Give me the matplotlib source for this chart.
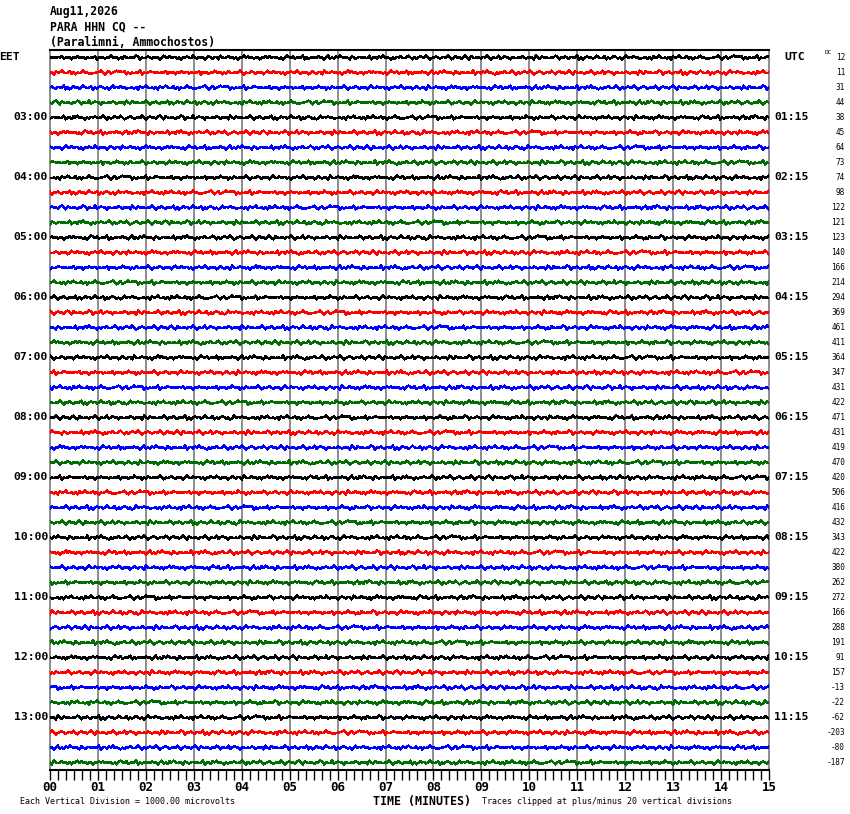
import numpy as np
import matplotlib
matplotlib.use("Agg")
import matplotlib.pyplot as plt
from matplotlib.ticker import MultipleLocator

# header lines
title_lines = ["Aug11,2026", "PARA HHN CQ --", "(Paralimni, Ammochostos)"]

# one trace every 15 minutes, 4 colours repeating
trace_colors = ["black", "red", "blue", "#006e00"]
n_rows = 48
eet_labels = ["03:00", "04:00", "05:00", "06:00", "07:00", "08:00",
              "09:00", "10:00", "11:00", "12:00", "13:00"]
utc_labels = ["01:15", "02:15", "03:15", "04:15", "05:15", "06:15",
              "07:15", "08:15", "09:15", "10:15", "11:15"]

# DC offsets printed on the right edge, one per trace
dc_values = [12, 11, 31, 44, 38, 45, 64, 73, 74, 98, 122, 121,
             123, 140, 166, 214, 294, 369, 461, 411, 364, 347, 431, 422,
             471, 431, 419, 470, 420, 506, 416, 432, 343, 422, 380, 262,
             272, 166, 288, 191, 91, 157, -13, -22, -62, -203, -80, -187]

minute_labels = ["00", "01", "02", "03", "04", "05", "06", "07",
                 "08", "09", "10", "11", "12", "13", "14", "15"]

# background noise, read by eye as digits 0..9 (4.5 = zero line)
noise_digits = (
    "4637251846392715" "5283746192538470" "3629481573640295"
    "7415826394057163" "2849361570482639" "6158239047516283"
    "9340617285394516" "1726485930271864" "5093846271659308"
    "4815027369148527" "3670952814063795" "8241673059284136"
    "0597314862705941" "6382059147368250" "2956708413592674"
    "7138462905814367" "4502936178245093" "9614285037619482"
    "1385970624153876" "5829143067482915" "3047618295730648"
    "8763205941862031" "2194857360947512"
)
noise = np.array([int(c) for c in noise_digits], dtype=float)

W, H = 850, 814
fig = plt.figure(figsize=(W / 100, H / 100), dpi=100)
fig.patch.set_facecolor("white")

left, right, top, bottom = 50, 769, 50, 770
ax = fig.add_axes([left / W, 1 - bottom / H, (right - left) / W, (bottom - top) / H])

mono = "DejaVu Sans Mono"

# minute grid
for m in range(16):
    ax.axvline(m, color="#8c8c8c", lw=1.4, zorder=1, clip_on=False)

n = len(noise)
x = np.linspace(0, 15, n)
for i in range(n_rows):
    vals = np.roll(noise, (i * 53) % n)
    v = (vals - 4.5) / 4.5
    y = i + np.sign(v) * v ** 2 * 0.13
    ax.plot(x, y, color=trace_colors[i % 4], lw=1.0, zorder=2, antialiased=False)

ax.set_xlim(0, 15)
ax.set_ylim(n_rows - 0.5, -0.5)

for s in ["left", "right"]:
    ax.spines[s].set_visible(False)
ax.spines["top"].set_linewidth(1.5)
ax.spines["bottom"].set_linewidth(1.5)

ax.set_yticks([])
ax.set_xticks(range(16))
ax.set_xticklabels(minute_labels, fontfamily=mono, fontweight="bold", fontsize=9)
ax.xaxis.set_minor_locator(MultipleLocator(1 / 6))
ax.tick_params(axis="x", which="major", length=7, width=1, pad=1, direction="out")
ax.tick_params(axis="x", which="minor", length=7, width=1, direction="out")

# hour labels left and right
for k in range(11):
    row = 4 * (k + 1)
    ax.text(-2 / 719, row, eet_labels[k], transform=ax.get_yaxis_transform(),
            ha="right", va="center", fontfamily=mono, fontweight="bold", fontsize=8.2)
    ax.text(1 + 5 / 719, row, utc_labels[k], transform=ax.get_yaxis_transform(),
            ha="left", va="center", fontfamily=mono, fontweight="bold", fontsize=8.2)

fig.text(20 / W, 1 - 57 / H, "EET", ha="right", va="center",
         fontfamily=mono, fontweight="bold", fontsize=8.2)
fig.text(795 / W, 1 - 57 / H, "UTC", ha="center", va="center",
         fontfamily=mono, fontweight="bold", fontsize=8.2)

# DC column
for i, v in enumerate(dc_values):
    ax.text(1 + 76 / 719, i, str(v), transform=ax.get_yaxis_transform(),
            ha="right", va="center", fontfamily=mono, fontsize=5.6)
fig.text(825 / W, 1 - 52 / H, "DC", ha="left", va="center",
         fontfamily=mono, fontsize=4.5)

# header
for j, t in enumerate(title_lines):
    fig.text(50 / W, 1 - (12 + 15 * j) / H, t, ha="left", va="center",
             fontfamily=mono, fontweight="bold", fontsize=8.3)

# footer
fig.text(422 / W, 1 - 802 / H, "TIME (MINUTES)", ha="center", va="center",
         fontfamily=mono, fontweight="bold", fontsize=8.4)
fig.text(20 / W, 1 - 802 / H, "Each Vertical Division = 1000.00 microvolts",
         ha="left", va="center", fontfamily=mono, fontsize=6)
fig.text(482 / W, 1 - 802 / H, "Traces clipped at plus/minus 20 vertical divisions",
         ha="left", va="center", fontfamily=mono, fontsize=6)

fig.savefig("out.png", dpi=100, facecolor="white")
